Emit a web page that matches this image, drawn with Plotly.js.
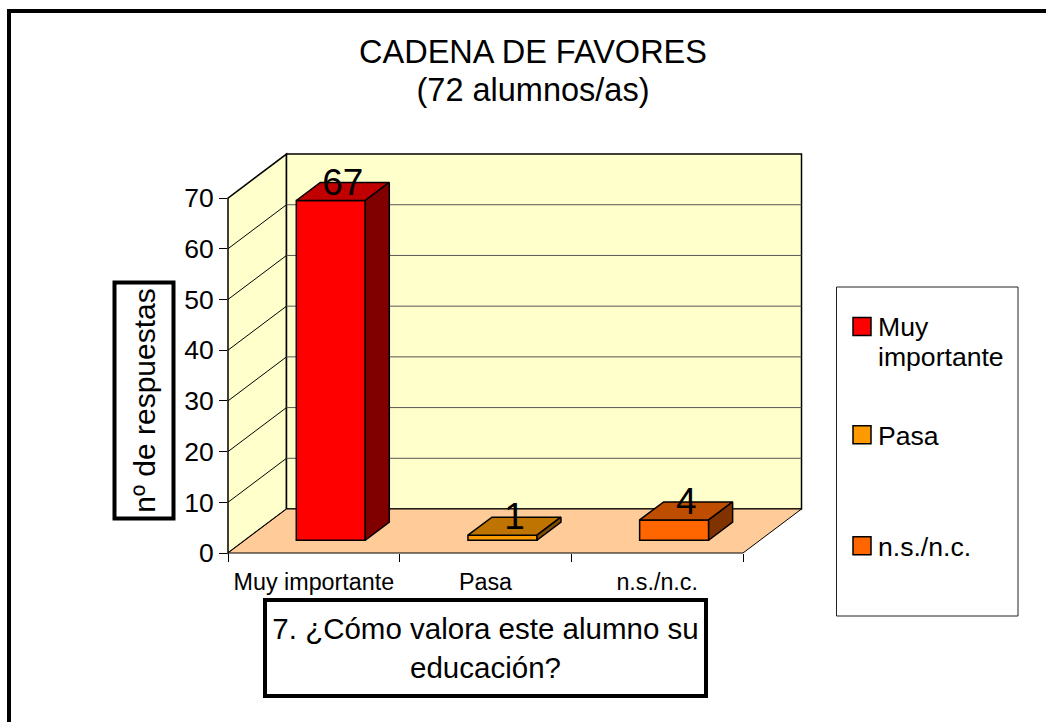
<!DOCTYPE html>
<html><head><meta charset="utf-8">
<script src="https://cdn.plot.ly/plotly-3.0.1.min.js"></script>
<style>html,body{margin:0;padding:0;background:#fff}</style>
</head><body><div id="chart" style="width:1046px;height:722px"></div>
<script>
const categories = ["Muy importante", "Pasa", "n.s./n.c."];
const legendNames = ["Muy<br>importante", "Pasa", "n.s./n.c."];
const values = [67, 1, 4];
const yTicks = [0, 10, 20, 30, 40, 50, 60, 70];
const frontColors = ["#FF0000", "#FF9900", "#FF6600"];
const topColors = ["#C00000", "#BF7300", "#BF4D00"];
const sideColors = ["#800000", "#804D00", "#803300"];
const chartTitle = "CADENA DE FAVORES<br>(72 alumnos/as)";
const xTitle = "7. ¿Cómo valora este alumno su<br>educación?";
const yTitle = "nº de respuestas";

const W = 1046, H = 722;
const left = 228, bottom = 553, plotW = 574, plotH = 399;
const catW = 171.67, unit = 5.071, depthX = 58.5, depthY = 44;
const barFront = 0.29, barBack = 0.70, barWidth = 0.402;
const font = "Liberation Sans, Arial, sans-serif";

// page pixels to plot-area fractions
const pageX = x => (x - left) / plotW;
const pageY = y => (bottom - y) / plotH;
// projection of (category position, value, depth) on the plot-area fractions
const pX = (c, d) => pageX(left + c * catW + d * depthX);
const pY = (v, d) => pageY(bottom - v * unit - d * depthY);
// the depth shift expressed in axis units
const dataX = (c, d) => c + d * depthX / catW;
const dataY = (v, d) => v + d * depthY / unit;

const poly = pts => "M" + pts.map(p => pX(p[0], p[2]) + "," + pY(p[1], p[2])).join("L") + "Z";
const line = pts => "M" + pts.map(p => pX(p[0], p[2]) + "," + pY(p[1], p[2])).join("L");
const yMax = yTicks[yTicks.length - 1], nCat = categories.length;
const paperShape = (path, fill, color, width) => ({type: "path", xref: "paper", yref: "paper", layer: "below",
  path, fillcolor: fill, line: {color, width}});

const shapes = [
  // outer frame and legend box
  {type: "rect", xref: "paper", yref: "paper", layer: "below", x0: pageX(9), x1: pageX(1080), y0: pageY(760), y1: pageY(11), fillcolor: "#fff", line: {color: "#000", width: 4}},
  {type: "rect", xref: "paper", yref: "paper", layer: "below", x0: pageX(836.5), x1: pageX(1018), y0: pageY(616), y1: pageY(287), fillcolor: "#fff", line: {color: "#222", width: 1}},
  paperShape(poly([[0, 0, 0], [0, yMax, 0], [0, yMax, 1], [0, 0, 1]]), "#FFFFCC", "#000", 1.5),
  paperShape(poly([[0, 0, 1], [0, yMax, 1], [nCat, yMax, 1], [nCat, 0, 1]]), "#FFFFCC", "#000", 1.5),
  paperShape(poly([[0, 0, 0], [0, 0, 1], [nCat, 0, 1], [nCat, 0, 0]]), "#FFCC99", "#000", 1),
];
yTicks.slice(1, -1).forEach(v => {
  shapes.push(paperShape(line([[0, v, 0], [0, v, 1]]), "rgba(0,0,0,0)", "#000", 1));
  shapes.push(paperShape(line([[0, v, 1], [nCat, v, 1]]), "rgba(0,0,0,0)", "#555", 1));
});

const traces = [];
values.forEach((v, i) => {
  traces.push({type: "bar", x: [dataX(i + 0.5, barFront)], y: [v], base: [dataY(0, barFront) ], width: barWidth,
    name: legendNames[i], legend: i === 0 ? "legend" : "legend" + (i + 1),
    marker: {color: frontColors[i], line: {color: "#000", width: 1.5}}, hoverinfo: "skip"});
});
values.forEach((v, i) => {
  const xL = i + 0.5 - barWidth / 2, xR = i + 0.5 + barWidth / 2;
  const face = (pts, color) => traces.push({type: "scatter", mode: "lines", fill: "toself", fillcolor: color,
    x: pts.map(p => dataX(p[0], p[2])), y: pts.map(p => dataY(p[1], p[2])),
    line: {color: "#000", width: 1.5}, showlegend: false, hoverinfo: "skip", cliponaxis: false});
  face([[xL, v, barFront], [xR, v, barFront], [xR, v, barBack], [xL, v, barBack], [xL, v, barFront]], topColors[i]);
  face([[xR, 0, barFront], [xR, v, barFront], [xR, v, barBack], [xR, 0, barBack], [xR, 0, barFront]], sideColors[i]);
});
traces.push({type: "scatter", mode: "text", x: values.map((v, i) => i + 0.5 + 29 / catW),
  y: values.map(v => v + 28 / unit), text: values.map(String), textposition: "middle center",
  textfont: {family: font, size: 37, color: "#000"}, showlegend: false, hoverinfo: "skip", cliponaxis: false});

const legendBase = {bgcolor: "rgba(0,0,0,0)", borderwidth: 0, xanchor: "left", yanchor: "middle", x: pageX(838),
  font: {family: font, size: 26.6, color: "#000"}, itemclick: false, itemdoubleclick: false};

const layout = {
  width: W, height: H, autosize: false,
  margin: {l: left, r: W - left - plotW, t: bottom - plotH, b: H - bottom},
  paper_bgcolor: "#fff", plot_bgcolor: "rgba(0,0,0,0)",
  font: {family: font, color: "#000"},
  barmode: "overlay", showlegend: true,
  title: {text: chartTitle, font: {family: font, size: 32.5, color: "#000"}, x: 533 / W, xanchor: "center", xref: "container", y: 1 - 63 / H, yref: "container", yanchor: "middle"},
  xaxis: {range: [0, plotW / catW], showgrid: false, zeroline: false, showline: false, fixedrange: true,
    tickmode: "array", tickvals: categories.map((c, i) => i + 0.5), ticktext: categories, ticks: "", ticklen: 0, ticklabelstandoff: 13,
    tickfont: {family: font, size: 23.3, color: "#000"},
    minor: {tickmode: "array", tickvals: [0, 1, 2, 3], ticks: "outside", ticklen: 8, tickcolor: "#000", tickwidth: 1, showgrid: false}},
  yaxis: {range: [0, plotH / unit], showgrid: false, zeroline: false, showline: false, fixedrange: true,
    tickmode: "array", tickvals: yTicks, ticks: "outside", ticklen: 8, tickcolor: "#000", tickwidth: 1,
    tickfont: {family: font, size: 26.5, color: "#000"}},
  shapes,
  legend: Object.assign({}, legendBase, {y: pageY(343)}),
  legend2: Object.assign({}, legendBase, {y: pageY(435)}),
  legend3: Object.assign({}, legendBase, {y: pageY(546)}),
  annotations: [
    {xref: "paper", yref: "paper", x: pageX(485.5), y: pageY(648), xanchor: "center", yanchor: "middle", showarrow: false,
      text: xTitle, align: "center", width: 437, height: 92, bordercolor: "#000", borderwidth: 4, borderpad: 0, bgcolor: "#fff",
      font: {family: font, size: 29.5, color: "#000"}},
    {xref: "paper", yref: "paper", x: pageX(143.5), y: pageY(401), xanchor: "center", yanchor: "middle", showarrow: false,
      text: yTitle, textangle: -90, align: "center", width: 232, height: 55, bordercolor: "#000", borderwidth: 4, borderpad: 0, bgcolor: "#fff",
      font: {family: font, size: 30, color: "#000"}}
  ]
};

Plotly.newPlot("chart", traces, layout, {displayModeBar: false}).then(() => {
  // larger legend keys, set beside the first text line as in the original
  document.querySelectorAll(".legendpoints path").forEach((p, i) => {
    p.setAttribute("d", "M9,9H-9V-9H9Z");
    p.setAttribute("transform", "translate(24," + (i === 0 ? -16 : 0) + ")");
  });
  // tighter line spacing in the title and the two-line legend entry
  const tighten = (sel, em) => document.querySelectorAll(sel + " tspan.line").forEach((t, i) => {
    if (i > 0) t.setAttribute("dy", em + "em");
  });
  tighten(".gtitle", 1.17);
  tighten(".legend .legendtext", 1.13);
});
</script></body></html>
